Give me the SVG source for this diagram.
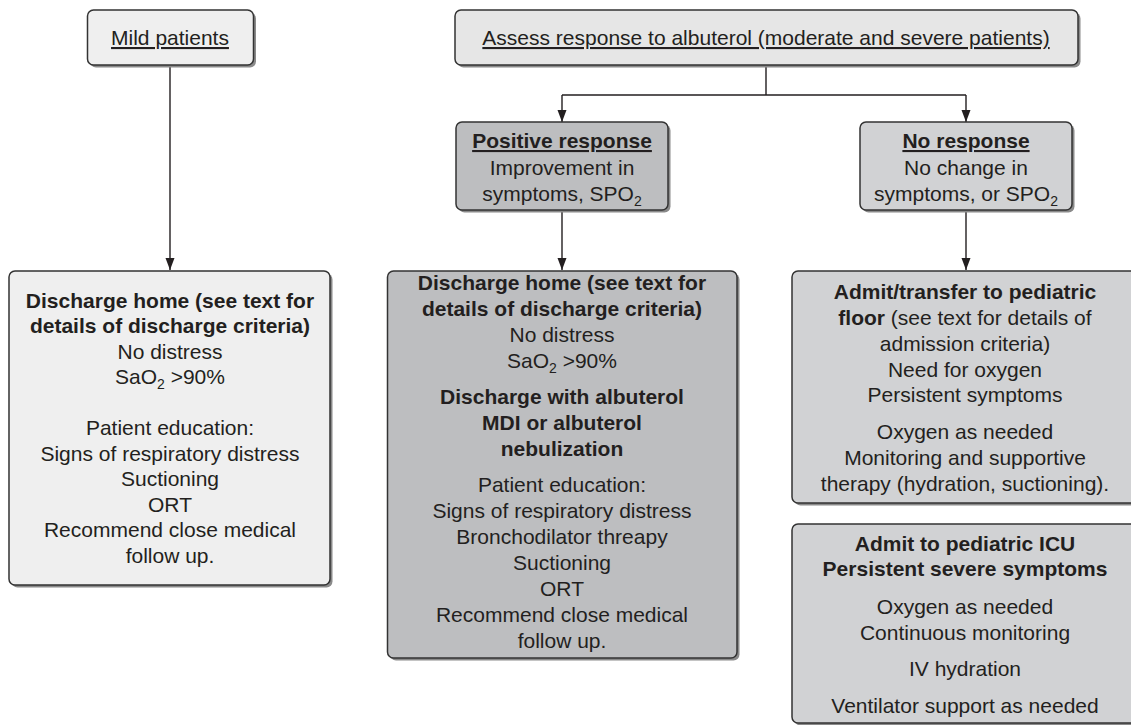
<svg xmlns="http://www.w3.org/2000/svg" width="1131" height="725" viewBox="0 0 1131 725">
<defs>
<style>
.sh{fill:#8a8a8a;}
.bx{stroke:#333;stroke-width:1.5;}
.l1{fill:#efefef;}
.l2{fill:#e6e6e6;}
.d1{fill:#bdbec0;}
.d2{fill:#d1d2d4;}
text{font-family:"Liberation Sans",Arial,Helvetica,sans-serif;font-size:21px;fill:#231f20;text-anchor:middle;}
.b{font-weight:bold;}
.u{text-decoration:underline;}
.sub{font-size:14px;}
.cn{fill:none;stroke:#231f20;stroke-width:1.4;}
</style>
<marker id="ah" markerUnits="userSpaceOnUse" markerWidth="12" markerHeight="10" refX="12" refY="4.5" orient="auto">
<path d="M0,0 L12,4.5 L0,9 z" fill="#231f20"/>
</marker>
</defs>
<rect width="1131" height="725" fill="#ffffff"/>
<g id="connectors">
<path class="cn" d="M170,65 V270" marker-end="url(#ah)"/>
<path class="cn" d="M766,65 V95 M562,95 H966"/>
<path class="cn" d="M562,95 V122" marker-end="url(#ah)"/>
<path class="cn" d="M966,95 V122" marker-end="url(#ah)"/>
<path class="cn" d="M562,210 V270" marker-end="url(#ah)"/>
<path class="cn" d="M966,210 V270" marker-end="url(#ah)"/>
</g>
<g id="mild">
<rect class="sh" x="90" y="12.5" width="166" height="55" rx="6"/>
<rect class="bx l1" x="87.5" y="10" width="166" height="55" rx="6"/>
<text class="u" x="170" y="45">Mild patients</text>
</g>
<g id="assess">
<rect class="sh" x="457.5" y="12.5" width="623" height="55" rx="6"/>
<rect class="bx l2" x="455" y="10" width="623" height="55" rx="6"/>
<text class="u" x="766" y="45">Assess response to albuterol (moderate and severe patients)</text>
</g>
<g id="positive">
<rect class="sh" x="458.5" y="124.5" width="212" height="88" rx="6"/>
<rect class="bx d1" x="456" y="122" width="212" height="88" rx="6"/>
<text class="b u" x="562" y="148">Positive response</text>
<text x="562" y="175">Improvement in</text>
<text x="562" y="200.5">symptoms, SPO<tspan class="sub" dy="5">2</tspan></text>
</g>
<g id="noresponse">
<rect class="sh" x="862.5" y="124.5" width="212" height="88" rx="6"/>
<rect class="bx d2" x="860" y="122" width="212" height="88" rx="6"/>
<text class="b u" x="966" y="148">No response</text>
<text x="966" y="175">No change in</text>
<text x="966" y="200.5">symptoms, or SPO<tspan class="sub" dy="5">2</tspan></text>
</g>
<g id="mild-discharge">
<rect class="sh" x="11.5" y="273.5" width="321" height="314" rx="6"/>
<rect class="bx l1" x="9" y="271" width="321" height="314" rx="6"/>
<text class="b" x="170" y="307.5">Discharge home (see text for</text>
<text class="b" x="170" y="333">details of discharge criteria)</text>
<text x="170" y="358.5">No distress</text>
<text x="170" y="384">SaO<tspan class="sub" dy="5">2</tspan><tspan dy="-5"> &gt;90%</tspan></text>
<text x="170" y="435">Patient education:</text>
<text x="170" y="460.5">Signs of respiratory distress</text>
<text x="170" y="486">Suctioning</text>
<text x="170" y="511.5">ORT</text>
<text x="170" y="537">Recommend close medical</text>
<text x="170" y="562.5">follow up.</text>
</g>
<g id="positive-discharge">
<rect class="sh" x="390" y="273.5" width="349.5" height="387" rx="6"/>
<rect class="bx d1" x="387.5" y="271" width="349.5" height="387" rx="6"/>
<text class="b" x="562" y="289.5">Discharge home (see text for</text>
<text class="b" x="562" y="315.5">details of discharge criteria)</text>
<text x="562" y="341.5">No distress</text>
<text x="562" y="367.5">SaO<tspan class="sub" dy="5">2</tspan><tspan dy="-5"> &gt;90%</tspan></text>
<text class="b" x="562" y="403.5">Discharge with albuterol</text>
<text class="b" x="562" y="429.5">MDI or albuterol</text>
<text class="b" x="562" y="455.5">nebulization</text>
<text x="562" y="491.5">Patient education:</text>
<text x="562" y="517.5">Signs of respiratory distress</text>
<text x="562" y="543.5">Bronchodilator threapy</text>
<text x="562" y="569.5">Suctioning</text>
<text x="562" y="595.5">ORT</text>
<text x="562" y="621.5">Recommend close medical</text>
<text x="562" y="647.5">follow up.</text>
</g>
<g id="admit-floor">
<rect class="sh" x="794.5" y="273.5" width="345" height="232" rx="6"/>
<rect class="bx d2" x="792" y="271" width="345" height="232" rx="6"/>
<text class="b" x="965" y="299">Admit/transfer to pediatric</text>
<text x="965" y="325"><tspan class="b">floor</tspan> (see text for details of</text>
<text x="965" y="350.5">admission criteria)</text>
<text x="965" y="376.5">Need for oxygen</text>
<text x="965" y="402">Persistent symptoms</text>
<text x="965" y="438.5">Oxygen as needed</text>
<text x="965" y="464.5">Monitoring and supportive</text>
<text x="965" y="490.5">therapy (hydration, suctioning).</text>
</g>
<g id="admit-icu">
<rect class="sh" x="794.5" y="526.5" width="345" height="199" rx="6"/>
<rect class="bx d2" x="792" y="524" width="345" height="199" rx="6"/>
<text class="b" x="965" y="550.5">Admit to pediatric ICU</text>
<text class="b" x="965" y="575.5">Persistent severe symptoms</text>
<text x="965" y="613.5">Oxygen as needed</text>
<text x="965" y="639.5">Continuous monitoring</text>
<text x="965" y="675.5">IV hydration</text>
<text x="965" y="712.5">Ventilator support as needed</text>
</g>
</svg>
